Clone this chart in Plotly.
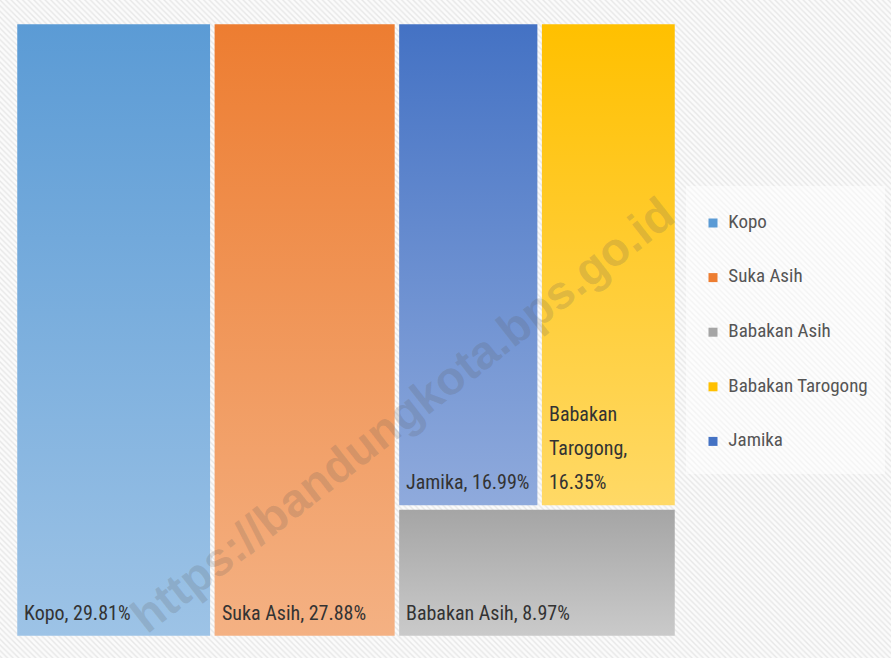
import plotly.graph_objects as go

# ---------------- data ----------------
categories = ["Kopo", "Suka Asih", "Babakan Asih", "Babakan Tarogong", "Jamika"]
shares = [29.81, 27.88, 8.97, 16.35, 16.99]
top_colors = ["#5B9BD5", "#ED7D31", "#A5A5A5", "#FFC000", "#4472C4"]
bottom_colors = ["#9DC3E6", "#F4B183", "#CACACA", "#FFD966", "#8FAADC"]
watermark = "https://bandungkota.bps.go.id"

# ---------------- layout constants ----------------
FIG_W, FIG_H = 891, 658
X0, X1, Y0, Y1 = 15, 677, 22, 638
GAP = 4.5
FONT = "Liberation Sans Narrow, Roboto Condensed, Arial Narrow, Liberation Sans, sans-serif"
LABEL_SIZE = 20
LINE_STEP = 34

val = dict(zip(categories, shares))
total = sum(shares)

# slice-and-dice treemap layout computed from the values
rects = {}
x = X0
for name in ["Kopo", "Suka Asih"]:
    w = (X1 - X0) * val[name] / total
    rects[name] = (x, x + w, Y0, Y1)
    x += w
rest = ["Babakan Asih", "Jamika", "Babakan Tarogong"]
rest_total = sum(val[n] for n in rest)
h_bottom = (Y1 - Y0) * val["Babakan Asih"] / rest_total
rects["Babakan Asih"] = (x, X1, Y1 - h_bottom, Y1)
top_row = ["Jamika", "Babakan Tarogong"]
top_total = sum(val[n] for n in top_row)
xx = x
for name in top_row:
    w = (X1 - x) * val[name] / top_total
    rects[name] = (xx, xx + w, Y0, Y1 - h_bottom)
    xx += w

fig = go.Figure()

# hatched background
fig.add_trace(go.Scatter(
    x=[0, FIG_W, FIG_W, 0, 0], y=[0, 0, FIG_H, FIG_H, 0], fill="toself", mode="lines",
    line=dict(width=0), fillcolor="white",
    fillpattern=dict(shape="\\", fgcolor="#d4d4d4", bgcolor="#fbfbfb", size=4, solidity=0.35),
    hoverinfo="skip", showlegend=False))

# legend box
LX0, LX1, LY0, LY1 = 686, 885, 186, 474
fig.add_trace(go.Scatter(
    x=[LX0, LX1, LX1, LX0, LX0], y=[LY0, LY0, LY1, LY1, LY0], fill="toself", mode="lines",
    line=dict(width=0), fillcolor="rgba(255,255,255,0.5)", hoverinfo="skip", showlegend=False))

annotations = []


def wrap(text, width):
    words = text.split(" ")
    lines, cur = [], ""
    for wd in words:
        cand = wd if not cur else cur + " " + wd
        if len(cand) * LABEL_SIZE * 0.42 > width and cur:
            lines.append(cur)
            cur = wd
        else:
            cur = cand
    lines.append(cur)
    return lines


for name, v, ct, cb in zip(categories, shares, top_colors, bottom_colors):
    a, b, c, d = rects[name]
    a, b, c, d = a + GAP / 2, b - GAP / 2, c + GAP / 2, d - GAP / 2
    fig.add_trace(go.Scatter(
        x=[a, b, b, a, a], y=[c, c, d, d, c], fill="toself", mode="lines",
        line=dict(width=0),
        fillgradient=dict(type="vertical", colorscale=[[0, ct], [1, cb]], start=c, stop=d),
        hoverinfo="skip", showlegend=False, name=name))
    lines = wrap(f"{name}, {v:.2f}%", (b - a) - 14)
    for i, ln in enumerate(reversed(lines)):
        annotations.append(dict(
            x=a + 5, y=d - 23 - i * LINE_STEP, xref="x", yref="y", text=ln, showarrow=False,
            xanchor="left", yanchor="middle",
            font=dict(family=FONT, size=LABEL_SIZE, color="#333333")))

# legend
legend_order = ["Kopo", "Suka Asih", "Babakan Asih", "Babakan Tarogong", "Jamika"]
col = dict(zip(categories, top_colors))
LEG_X, LEG_Y0, LEG_STEP = 713, 223, 54.6
fig.add_trace(go.Scatter(
    x=[LEG_X] * len(legend_order),
    y=[LEG_Y0 + i * LEG_STEP for i in range(len(legend_order))],
    mode="markers+text", text=["  " + n for n in legend_order], textposition="middle right",
    textfont=dict(family=FONT, size=19, color="#555555"),
    marker=dict(symbol="square", size=9, color=[col[n] for n in legend_order]),
    hoverinfo="skip", showlegend=False))

# watermark
annotations.append(dict(
    x=402, y=414, xref="x", yref="y", text=watermark, showarrow=False, textangle=-38,
    font=dict(family="Liberation Sans, Arial, sans-serif", size=47, color="rgba(90,90,90,0.2)",
              weight="bold")))

fig.update_layout(
    width=FIG_W, height=FIG_H, margin=dict(l=0, r=0, t=0, b=0),
    paper_bgcolor="white", plot_bgcolor="white",
    xaxis=dict(range=[0, FIG_W], visible=False, fixedrange=True),
    yaxis=dict(range=[FIG_H, 0], visible=False, fixedrange=True),
    annotations=annotations, showlegend=False)

fig.write_html("out.html", config={"displayModeBar": False},
               post_script="document.body.style.margin='0';")
